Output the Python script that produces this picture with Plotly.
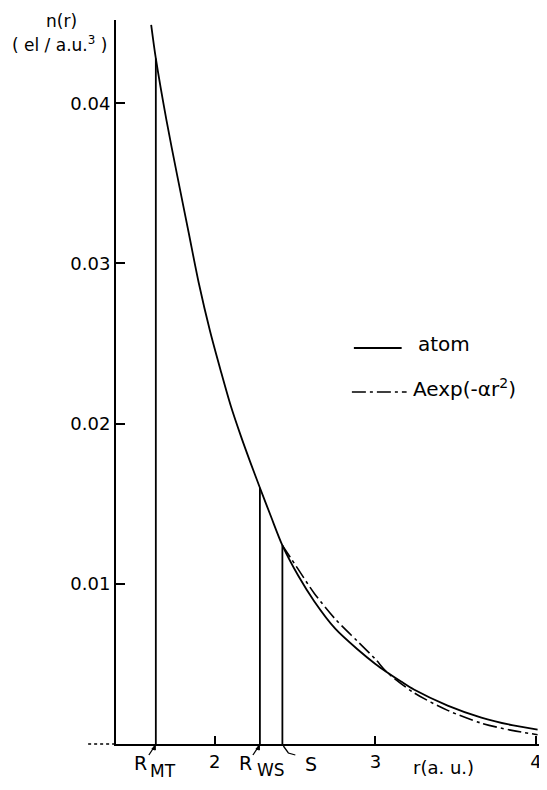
import plotly.graph_objects as go

# ---- data ----
atom_r = [1.604, 1.633, 1.70, 1.766, 1.838, 1.90, 1.97, 2.04, 2.10, 2.16, 2.221, 2.281,
          2.35, 2.421, 2.52, 2.62, 2.75, 2.89, 3.00, 3.07, 3.16, 3.24, 3.45, 3.66, 3.85, 4.01]
atom_n = [0.0449, 0.0428, 0.0389, 0.0355, 0.0319, 0.0288, 0.0258, 0.0232, 0.0211, 0.0193, 0.0176, 0.0160,
          0.0142, 0.0124, 0.0105, 0.0089, 0.0072, 0.0059, 0.0050, 0.0045, 0.0039, 0.0034, 0.0024, 0.00165, 0.00118, 0.0009]

fit_r = [2.421, 2.52, 2.62, 2.75, 2.89, 3.00, 3.07, 3.24, 3.45, 3.66, 3.85, 4.01]
fit_n = [0.0124, 0.0109, 0.0094, 0.0078, 0.0064, 0.0053, 0.0045, 0.0032, 0.0021, 0.0013, 0.00085, 0.00058]

marker_names = ["R_MT", "R_WS", "S"]
marker_r = [1.633, 2.281, 2.421]
marker_n = [0.0428, 0.0160, 0.0124]

x_ticks = [2, 3, 4]
x_ticklabels = ["2", "3", "4"]
y_ticks = [0.01, 0.02, 0.03, 0.04]
y_ticklabels = ["0.01", "0.02", "0.03", "0.04"]

legend_labels = ["atom", "Aexp(-αr<sup>2</sup>)"]

X_RANGE = [1.385, 4.025]
Y_RANGE = [0, 0.0452]

# ---- geometry helpers (window pixel -> paper); page body has an 8px margin ----
OFF = 8
W, H = 547 - OFF, 790 - 2 * OFF
L, R, T, B = 108, 5, 12, 38
PW, PH = W - L - R, H - T - B


def px(x):
    return (x - OFF - L) / PW


def py(y):
    return (H - B - (y - OFF)) / PH


def rx(r):
    # data r -> paper x
    return (r - X_RANGE[0]) / (X_RANGE[1] - X_RANGE[0])


FONT = "DejaVu Sans"
DASH = "14px,4px,3px,4px"

fig = go.Figure()

fig.add_trace(go.Scatter(x=atom_r, y=atom_n, mode="lines",
                         line=dict(color="black", width=1.8, shape="spline", smoothing=0.8),
                         showlegend=False, hoverinfo="skip"))
fig.add_trace(go.Scatter(x=fit_r, y=fit_n, mode="lines",
                         line=dict(color="black", width=1.6, dash=DASH, shape="spline", smoothing=0.8),
                         showlegend=False, hoverinfo="skip"))

vx, vy = [], []
for r, n in zip(marker_r, marker_n):
    vx += [r, r, None]
    vy += [0, n, None]
fig.add_trace(go.Scatter(x=vx, y=vy, mode="lines", line=dict(color="black", width=1.8),
                         showlegend=False, hoverinfo="skip"))

shapes = [
    # dotted extension of the r axis left of the n axis
    dict(type="line", xref="paper", yref="paper", x0=px(88), x1=0, y0=0, y1=0,
         line=dict(color="black", width=1.5, dash="dot")),
    # legend samples
    dict(type="line", xref="paper", yref="paper", x0=px(355), x1=px(403), y0=py(348), y1=py(348),
         line=dict(color="black", width=1.8)),
    dict(type="line", xref="paper", yref="paper", x0=px(353), x1=px(408), y0=py(392), y1=py(392),
         line=dict(color="black", width=1.6, dash=DASH)),
]

# small pointer marks under the marked radii
ppx = 1.0 / PW   # one pixel in paper-x units
ppy = 1.0 / PH   # one pixel in paper-y units
for r in marker_r[:2]:
    x0 = rx(r)
    shapes.append(dict(type="path", xref="paper", yref="paper",
                       path=f"M {x0 - 7*ppx} {-11*ppy} L {x0 - 1*ppx} {-2*ppy}",
                       line=dict(color="black", width=1.3)))
    shapes.append(dict(type="path", xref="paper", yref="paper",
                       path=f"M {x0 - 4*ppx} {-5*ppy} L {x0 - 0.5*ppx} {-1*ppy} L {x0 - 0.5*ppx} {-6*ppy} Z",
                       fillcolor="black", line=dict(color="black", width=1)))
xs = rx(marker_r[2])
shapes.append(dict(type="path", xref="paper", yref="paper",
                   path=f"M {xs + 1*ppx} {-2*ppy} L {xs + 6*ppx} {-9*ppy} L {xs + 13*ppx} {-11*ppy}",
                   line=dict(color="black", width=1.3)))

anns = [
    dict(text="n(r)", x=61, y=21, size=17),
    dict(text="( el / a.u.<sup>3</sup> )", x=59, y=44, size=17),
    dict(text="r(a. u.)", x=445, y=768, size=18),
    dict(text="R", x=141, y=763, size=19),
    dict(text="MT", x=163, y=771, size=17),
    dict(text="R", x=246, y=763, size=19),
    dict(text="WS", x=272, y=770, size=17),
    dict(text="S", x=312, y=764, size=19),
    dict(text=legend_labels[0], x=418, y=344, xanchor="left", size=20),
    dict(text=legend_labels[1], x=413, y=388, xanchor="left", size=20),
]
annotations = []
for a in anns:
    annotations.append(dict(text=a["text"], x=px(a["x"]), y=py(a["y"]), xref="paper", yref="paper",
                            xanchor=a.get("xanchor", "center"), yanchor="middle", showarrow=False,
                            borderpad=0,
                            font=dict(family=FONT, size=a.get("size", 16), color="black")))

fig.update_layout(
    width=W, height=H,
    margin=dict(l=L, r=R, t=T, b=B),
    paper_bgcolor="white", plot_bgcolor="white",
    font=dict(family=FONT, size=18, color="black"),
    shapes=shapes, annotations=annotations,
    showlegend=False,
    xaxis=dict(range=X_RANGE, tickvals=x_ticks, ticktext=x_ticklabels, ticks="inside", ticklen=8,
               tickwidth=1.5, tickcolor="black", showline=True, linecolor="black", linewidth=2,
               showgrid=False, zeroline=False, fixedrange=True, ticklabeloverflow="allow"),
    yaxis=dict(range=Y_RANGE, tickvals=y_ticks, ticktext=y_ticklabels, ticks="inside", ticklen=9,
               tickwidth=1.5, tickcolor="black", showline=True, linecolor="black", linewidth=2,
               showgrid=False, zeroline=False, fixedrange=True),
)

fig.write_html("out.html")
